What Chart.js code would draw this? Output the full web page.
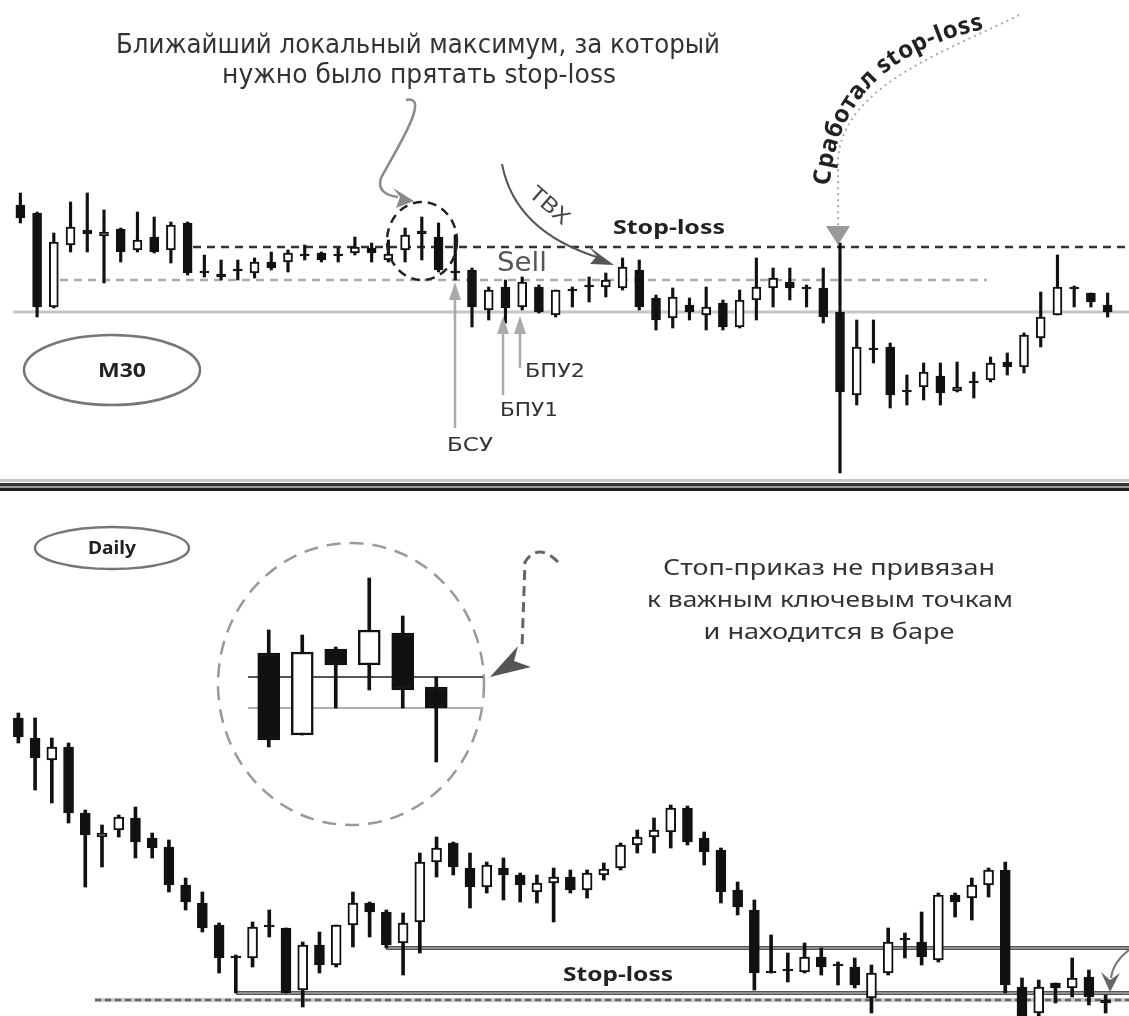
<!DOCTYPE html>
<html>
<head>
<meta charset="utf-8">
<script src="https://cdn.jsdelivr.net/npm/chart.js@4.4.1/dist/chart.umd.min.js"></script>
<style>
  html, body { margin: 0; padding: 0; background: #fff; }
  #wrap { position: relative; width: 1129px; height: 1016px; overflow: hidden; }
  canvas { position: absolute; }
  #top { left: 0; top: 0; }
  #bottom { left: 0; top: 478px; }
  #inset { left: 236px; top: 560px; }
</style>
</head>
<body>
<div id="wrap">
  <canvas id="top" width="1129" height="480"></canvas>
  <canvas id="bottom" width="1129" height="538"></canvas>
  <canvas id="inset" width="254" height="220"></canvas>
</div>
<script>
// ---------------- DATA: M30 ----------------
const m30Open  = [275,267,173,235,250,244,251,230,243,230,257,209,206,211,207,218,218,226,227,226,227,232,220,230,249,243,209,210,170,193,173,193,165,191,195,193,192,210,182,162,175,165,177,153,180,192,198,193,192,168,85,132,133,90,93,104,89,99,100,118,113,142,165,193,187,175];
const m30High  = [287,268,247,278,287,270,252,268,263,258,258,225,220,220,222,228,230,235,228,232,243,237,240,252,263,257,245,212,193,200,203,195,190,193,203,207,222,220,185,192,182,193,180,190,222,212,212,195,212,237,160,160,137,105,117,117,118,108,123,127,147,188,225,194,187,187];
const m30Low   = [257,163,172,228,228,197,218,228,227,217,205,203,200,200,202,210,208,220,218,218,225,218,218,218,220,208,200,153,160,157,170,167,163,173,178,183,190,170,150,152,160,150,150,152,160,173,180,173,157,7,75,117,72,75,80,75,88,82,98,105,107,133,165,173,173,163];
const m30Close = [262,173,238,253,246,248,228,240,228,255,207,207,203,209,218,212,227,224,220,224,233,227,226,245,246,210,207,173,190,172,198,168,190,189,193,200,213,173,160,183,168,173,153,180,193,202,192,191,163,88,133,130,85,88,108,87,93,97,117,113,145,163,193,191,178,168];
const m30Labels = m30Open.map((_, i) => "M30 " + (i + 1));
// stop-loss, intermediate level, support
const m30Levels = [233, 200, 168];

// ---------------- DATA: Daily ----------------
const dayOpen  = [298,278,256,269,203,179,186,198,178,169,131,113,91,60,58,91,88,26,71,51,91,113,104,73,94,154,173,148,129,148,141,124,133,139,126,141,148,171,179,184,208,178,166,126,106,45,47,44,59,52,49,18,43,78,74,56,121,118,131,146,29,3,33,28,39,16];
const dayHigh  = [303,298,278,273,206,191,201,209,183,176,138,124,93,61,94,106,88,74,84,91,124,114,106,103,163,179,174,163,154,158,143,141,148,146,146,153,173,186,198,211,210,184,168,134,116,81,63,73,68,54,58,51,88,83,104,123,123,138,148,154,38,36,33,58,46,21];
const dayLow   = [273,226,213,193,129,149,179,158,158,124,106,84,43,23,49,79,23,9,43,49,69,79,68,41,63,139,141,108,123,116,114,113,94,123,118,136,146,163,163,168,171,151,113,101,26,43,34,43,41,31,28,3,41,58,51,54,99,96,119,23,-10,-8,13,19,11,3];
const dayClose = [279,258,269,203,181,183,199,174,168,131,114,88,58,58,89,89,23,71,51,91,113,104,71,93,154,168,149,129,151,141,131,133,139,126,143,147,171,179,186,208,174,164,124,109,43,43,45,59,49,50,31,43,74,76,59,121,114,131,146,31,-4,29,28,38,19,13];
const dayLabels = dayOpen.map((_, i) => "D " + (i + 1));
// upper line, stop-loss line, dashed low
const dayLevels = [68, 23, 16];

// ---------------- DATA: zoomed inset ----------------
const insOpen  = [127,45,131,115,147,93];
const insHigh  = [150,145,133,202,164,103];
const insLow   = [33,45,72,90,72,18];
const insClose = [40,128,115,150,90,72];
const insLabels = ["1", "2", "3", "4", "5", "6"];
const insLevels = [103, 72];

// ---------------- HELPERS ----------------
function candleSets(o, h, l, c, bodyW, wickW, lineW) {
  const fill = o.map((v, i) => (c[i] < v ? "#111" : "#fff"));
  return [
    {
      data: o.map((v, i) => [v, c[i]]),
      backgroundColor: fill,
      borderColor: "#111",
      borderWidth: lineW,
      borderSkipped: false,
      barThickness: bodyW,
      grouped: false,
      order: 0,
    },
    {
      data: l.map((v, i) => [v, h[i]]),
      backgroundColor: "#111",
      borderWidth: 0,
      barThickness: wickW,
      grouped: false,
      order: 1,
    },
  ];
}

function fitText(ctx, t, x, y, w, font, color) {
  ctx.save();
  ctx.font = font;
  ctx.fillStyle = color;
  ctx.textAlign = "center";
  ctx.textBaseline = "middle";
  const m = ctx.measureText(t).width;
  ctx.translate(x, y);
  ctx.scale(w / m, 1);
  ctx.fillText(t, 0, 0);
  ctx.restore();
}

function poly(ctx, pts, color) {
  ctx.beginPath();
  ctx.moveTo(pts[0][0], pts[0][1]);
  pts.slice(1).forEach((p) => ctx.lineTo(p[0], p[1]));
  ctx.closePath();
  ctx.fillStyle = color;
  ctx.fill();
}

function hline(ctx, chart, v, x0, x1, color, width, dash) {
  const y = chart.scales.y.getPixelForValue(v);
  ctx.save();
  ctx.strokeStyle = color;
  ctx.lineWidth = width;
  ctx.setLineDash(dash || []);
  ctx.beginPath();
  ctx.moveTo(x0, y);
  ctx.lineTo(x1, y);
  ctx.stroke();
  ctx.restore();
}

function ellipse(ctx, cx, cy, rx, ry, color, width, dash) {
  ctx.save();
  ctx.strokeStyle = color;
  ctx.lineWidth = width;
  ctx.setLineDash(dash || []);
  ctx.beginPath();
  ctx.ellipse(cx, cy, rx, ry, 0, 0, Math.PI * 2);
  ctx.stroke();
  ctx.restore();
}

// text whose letters follow a quadratic curve, centred on it
function textOnCurve(ctx, text, p0, p1, p2, font, color) {
  ctx.save();
  ctx.font = font;
  ctx.fillStyle = color;
  const pts = [];
  let len = 0;
  let prev = null;
  for (let i = 0; i <= 300; i++) {
    const t = i / 300;
    const x = (1 - t) * (1 - t) * p0[0] + 2 * (1 - t) * t * p1[0] + t * t * p2[0];
    const y = (1 - t) * (1 - t) * p0[1] + 2 * (1 - t) * t * p1[1] + t * t * p2[1];
    if (prev) len += Math.hypot(x - prev.x, y - prev.y);
    pts.push({ x, y, len });
    prev = { x, y };
  }
  const total = ctx.measureText(text).width;
  const k0 = Math.min(1.08, Math.max(1, len / total));
  let s = (len - total * k0) / 2;
  for (const ch of text) {
    const w = ctx.measureText(ch).width * k0;
    const mid = s + w / 2;
    let k = pts.findIndex((p) => p.len >= mid);
    if (k < 1) k = 1;
    const a = pts[k - 1], b = pts[k];
    ctx.save();
    ctx.translate(b.x, b.y);
    ctx.rotate(Math.atan2(b.y - a.y, b.x - a.x));
    ctx.textAlign = "center";
    ctx.textBaseline = "middle";
    ctx.fillText(ch, 0, 0);
    ctx.restore();
    s += w;
  }
  ctx.restore();
}

function candleChart(id, labels, o, h, l, c, opt, plugin) {
  return new Chart(document.getElementById(id), {
    type: "bar",
    data: { labels, datasets: candleSets(o, h, l, c, opt.body, opt.wick, opt.line) },
    options: {
      responsive: false,
      animation: false,
      events: [],
      layout: { padding: { left: opt.left, right: opt.right, top: 0, bottom: 0 } },
      plugins: { legend: { display: false }, tooltip: { enabled: false } },
      scales: {
        x: { display: false },
        y: { display: false, min: opt.min, max: opt.max },
      },
    },
    plugins: [plugin],
  });
}

const FONT_C = "'DejaVu Sans Condensed', 'DejaVu Sans', sans-serif";
const FONT_S = "'Noto Sans', 'Open Sans', sans-serif";

// ---------------- M30 PANEL ----------------
const topPlugin = {
  id: "m30notes",
  beforeDatasetsDraw(chart) {
    const ctx = chart.ctx;
    hline(ctx, chart, m30Levels[2], 13, 1129, "#c6c6c6", 3);
    hline(ctx, chart, m30Levels[1], 60, 987, "#aaaaaa", 2.5, [8, 6]);
    hline(ctx, chart, m30Levels[0], 193, 1129, "#333", 2.5, [8, 6]);
  },
  afterDraw(chart) {
    const ctx = chart.ctx;
    ctx.save();
    // heading
    fitText(ctx, "Ближайший локальный максимум, за который", 418, 46, 604, "26px " + FONT_C, "#333");
    fitText(ctx, "нужно было прятать stop-loss", 419, 76, 394, "26px " + FONT_C, "#333");

    // hooked grey arrow to the local max
    ctx.strokeStyle = "#8a8a8a";
    ctx.lineWidth = 2.5;
    ctx.beginPath();
    ctx.moveTo(406, 100);
    ctx.bezierCurveTo(432, 94, 396, 150, 381, 178);
    ctx.quadraticCurveTo(376, 194, 398, 197);
    ctx.stroke();
    poly(ctx, [[414, 201], [393, 188], [400, 197], [396, 208]], "#8a8a8a");

    // dashed circle round the local max
    ellipse(ctx, 422, 241, 35, 39, "#222", 2.5, [9, 6]);

    // TBX arrow
    ctx.strokeStyle = "#555";
    ctx.lineWidth = 2;
    ctx.beginPath();
    ctx.moveTo(502, 164);
    ctx.quadraticCurveTo(515, 232, 600, 258);
    ctx.stroke();
    poly(ctx, [[614, 265], [588, 246], [597, 256], [590, 264]], "#555");
    ctx.save();
    ctx.translate(549, 206);
    ctx.rotate(0.72);
    fitText(ctx, "ТВХ", 0, 0, 46, "21px " + FONT_S, "#444");
    ctx.restore();

    fitText(ctx, "Stop-loss", 669, 229, 112, "bold 19px " + FONT_S, "#222");
    fitText(ctx, "Sell", 522, 264, 50, "27px " + FONT_C, "#555");

    // "stop-loss hit" callout
    ctx.strokeStyle = "#aaa";
    ctx.lineWidth = 2;
    ctx.setLineDash([2, 4]);
    ctx.beginPath();
    ctx.moveTo(1019, 15);
    ctx.bezierCurveTo(950, 50, 842, 85, 838, 160);
    ctx.lineTo(838, 228);
    ctx.stroke();
    ctx.setLineDash([]);
    poly(ctx, [[826, 226], [850, 226], [838, 245]], "#999");
    textOnCurve(ctx, "Сработал stop-loss", [822, 198], [826, 52], [994, 20], "bold 24px " + FONT_S, "#222");

    // level arrows
    const up = (x, y0, y1) => {
      ctx.strokeStyle = "#aaa";
      ctx.lineWidth = 2.5;
      ctx.beginPath();
      ctx.moveTo(x, y0);
      ctx.lineTo(x, y1 + 10);
      ctx.stroke();
      poly(ctx, [[x, y1], [x - 6, y1 + 18], [x + 6, y1 + 18]], "#aaa");
    };
    up(455, 428, 282);
    up(503, 395, 316);
    up(520, 368, 316);
    fitText(ctx, "БСУ", 470, 446, 46, "19px " + FONT_C, "#333");
    fitText(ctx, "БПУ1", 529, 411, 58, "19px " + FONT_C, "#333");
    fitText(ctx, "БПУ2", 555, 372, 60, "19px " + FONT_C, "#333");

    // M30 badge
    ellipse(ctx, 112, 370, 88, 35, "#777", 2.5);
    fitText(ctx, "M30", 122, 372, 48, "bold 19px " + FONT_S, "#222");
    ctx.restore();
  },
};

candleChart("top", m30Labels, m30Open, m30High, m30Low, m30Close,
  { body: 9, wick: 2.5, line: 2, left: 12, right: 13, min: 0, max: 480 }, topPlugin);

// ---------------- DAILY PANEL ----------------
const bottomPlugin = {
  id: "dailynotes",
  beforeDatasetsDraw(chart) {
    const ctx = chart.ctx;
    hline(ctx, chart, dayLevels[2], 95, 1129, "#c8c8c8", 4);
    hline(ctx, chart, dayLevels[2], 95, 1129, "#666", 2.5, [6, 4]);
    hline(ctx, chart, dayLevels[0], 386, 1129, "#555", 4);
    hline(ctx, chart, dayLevels[0], 386, 1129, "#ccc", 1);
    hline(ctx, chart, dayLevels[1], 236, 1129, "#555", 4);
    hline(ctx, chart, dayLevels[1], 236, 1129, "#ccc", 1);

    ctx.save();
    ctx.translate(0, -478);
    // panel separator
    ctx.fillStyle = "#c8c8c8";
    ctx.fillRect(0, 479, 1129, 3);
    ctx.fillStyle = "#333";
    ctx.fillRect(0, 483, 1129, 3);
    ctx.fillStyle = "#999";
    ctx.fillRect(0, 486, 1129, 2);
    ctx.fillStyle = "#222";
    ctx.fillRect(0, 488, 1129, 3);
    // zoom circle
    ellipse(ctx, 351, 684, 133, 141, "#999", 2.5, [14, 9]);
    ctx.restore();
  },
  afterDraw(chart) {
    const ctx = chart.ctx;
    ctx.save();
    ctx.translate(0, -478);
    ellipse(ctx, 112, 548, 77, 21, "#777", 2.5);
    fitText(ctx, "Daily", 112, 549, 48, "bold 17px " + FONT_S, "#222");

    fitText(ctx, "Стоп-приказ не привязан", 829, 569, 332, "21px " + FONT_S, "#333");
    fitText(ctx, "к важным ключевым точкам", 830, 601, 366, "21px " + FONT_S, "#333");
    fitText(ctx, "и находится в баре", 829, 633, 251, "21px " + FONT_S, "#333");

    // dashed pointer into the circle
    ctx.strokeStyle = "#666";
    ctx.lineWidth = 3;
    ctx.setLineDash([10, 6]);
    ctx.beginPath();
    ctx.moveTo(558, 562);
    ctx.quadraticCurveTo(538, 542, 525, 562);
    ctx.lineTo(522, 648);
    ctx.stroke();
    ctx.setLineDash([]);
    poly(ctx, [[490, 677], [518, 646], [514, 661], [531, 667]], "#555");

    fitText(ctx, "Stop-loss", 618, 976, 110, "bold 19px " + FONT_S, "#222");

    // small arrow on the right
    ctx.strokeStyle = "#777";
    ctx.lineWidth = 2;
    ctx.beginPath();
    ctx.moveTo(1129, 950);
    ctx.quadraticCurveTo(1113, 962, 1111, 978);
    ctx.stroke();
    poly(ctx, [[1110, 992], [1101, 972], [1110, 980], [1120, 973]], "#666");
    ctx.restore();
  },
};

candleChart("bottom", dayLabels, dayOpen, dayHigh, dayLow, dayClose,
  { body: 10, wick: 3, line: 2, left: 10, right: 15, min: 0, max: 538 }, bottomPlugin);

// ---------------- INSET ----------------
const insetPlugin = {
  id: "insetlines",
  beforeDatasetsDraw(chart) {
    const ctx = chart.ctx;
    hline(ctx, chart, insLevels[1], 12, 247, "#b0b0b0", 2);
    hline(ctx, chart, insLevels[0], 12, 247, "#555", 2);
  },
};

candleChart("inset", insLabels, insOpen, insHigh, insLow, insClose,
  { body: 22, wick: 3, line: 2.5, left: 16, right: 37, min: 0, max: 220 }, insetPlugin);
</script>
</body>
</html>
